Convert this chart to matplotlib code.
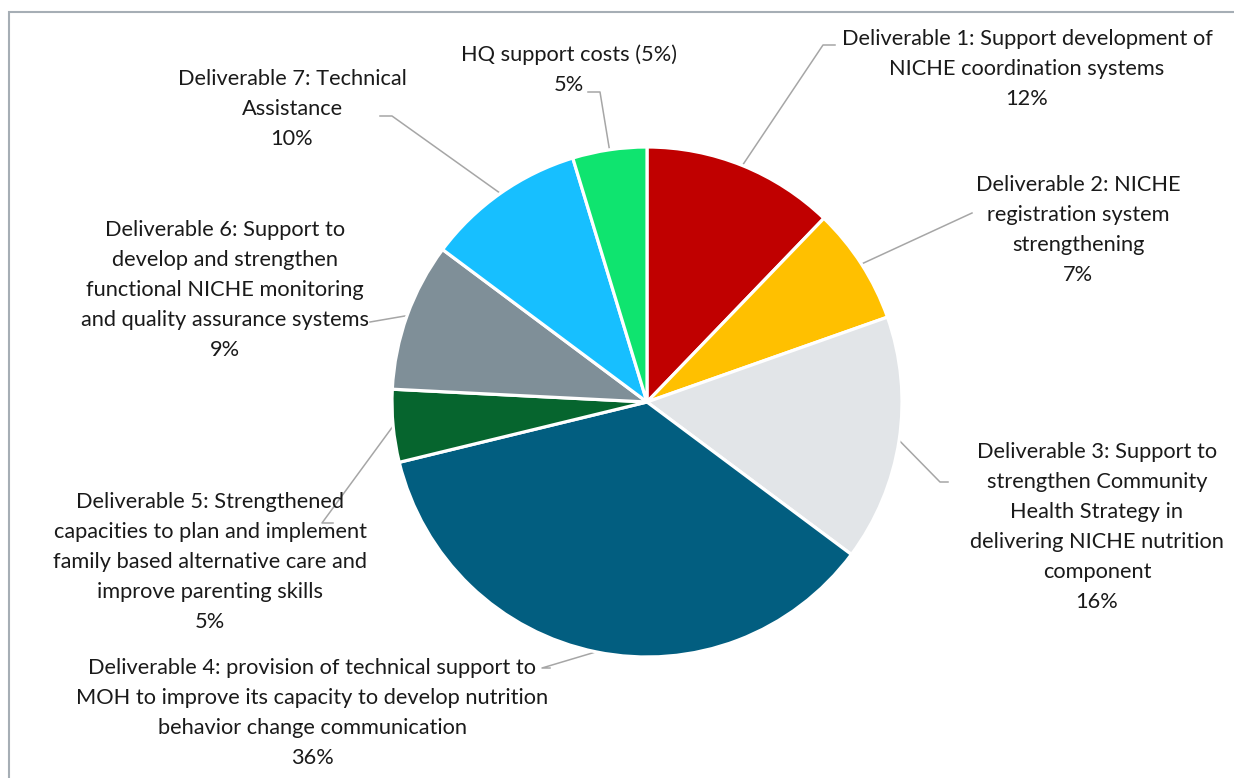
import numpy as np
import matplotlib
matplotlib.use("Agg")
import matplotlib.pyplot as plt
from matplotlib.patches import Rectangle

# data (share of budget)
categories = [
    "Deliverable 1: Support development of\nNICHE coordination systems",
    "Deliverable 2: NICHE\nregistration system\nstrengthening",
    "Deliverable 3: Support to\nstrengthen Community\nHealth Strategy in\ndelivering NICHE nutrition\ncomponent",
    "Deliverable 4: provision of technical support to\nMOH to improve its capacity to develop nutrition\nbehavior change communication",
    "Deliverable 5: Strengthened\ncapacities to plan and implement\nfamily based alternative care and\nimprove parenting skills",
    "Deliverable 6: Support to\ndevelop and strengthen\nfunctional NICHE monitoring\nand quality assurance systems",
    "Deliverable 7: Technical\nAssistance",
    "HQ support costs (5%)",
]
shares = [12.2, 7.4, 15.6, 36.0, 4.6, 9.4, 10.1, 4.7]
colors = ["#C00000", "#FFC000", "#E2E5E8", "#025E80", "#06652E", "#7F8F98", "#17BFFF", "#0FE46F"]

# label layout in pixels (block centre x, y from top) and leader elbow points
W, H = 1234, 778
label_pos = [(1027, 69), (1078, 230), (1097, 527), (312, 713), (210, 562), (225, 290), (292, 109), (569, 70)]
elbows = [((835, 45), (823, 45)), ((972, 213), (972, 213)), ((948, 482), (940, 482)),
          ((550, 668), (542, 668)), ((333, 523), (322, 523)), ((370, 322), (370, 322)),
          ((380, 116), (392, 116)), ((588, 92), (600, 92))]

plt.rcParams['font.family'] = ['Lato', 'DejaVu Sans']
fig = plt.figure(figsize=(W / 100, H / 100), dpi=100)
ax = fig.add_axes([0, 0, 1, 1])

cx, cy, r = 647, H - 402, 255
wedges, _ = ax.pie(shares, colors=colors, startangle=90, counterclock=False,
                   center=(cx, cy), radius=r, frame=True,
                   wedgeprops=dict(edgecolor="white", linewidth=2.3))
ax.set_xlim(0, W)
ax.set_ylim(0, H)
ax.axis("off")

total = sum(shares)
for i, w in enumerate(wedges):
    mid = np.deg2rad((w.theta1 + w.theta2) / 2)
    px, py = cx + r * np.cos(mid), cy + r * np.sin(mid)
    (ex1, ey1), (ex2, ey2) = elbows[i]
    ax.plot([ex1, ex2, px], [H - ey1, H - ey2, py], color="#A6A6A6", lw=1.1, zorder=0)
    pct = round(shares[i] / total * 100)
    lx, ly = label_pos[i]
    ax.text(lx, H - ly, categories[i] + "\n%d%%" % pct, ha="center", va="center",
            fontsize=15.7, linespacing=1.63, color="#1a1a1a")

fig.patches.append(Rectangle((9 / W, -0.2), 1.2, 1.2 - 12 / H, transform=fig.transFigure,
                             fill=False, edgecolor="#A6AEB5", lw=1.5))

fig.savefig("out.png", dpi=100, facecolor="white")
